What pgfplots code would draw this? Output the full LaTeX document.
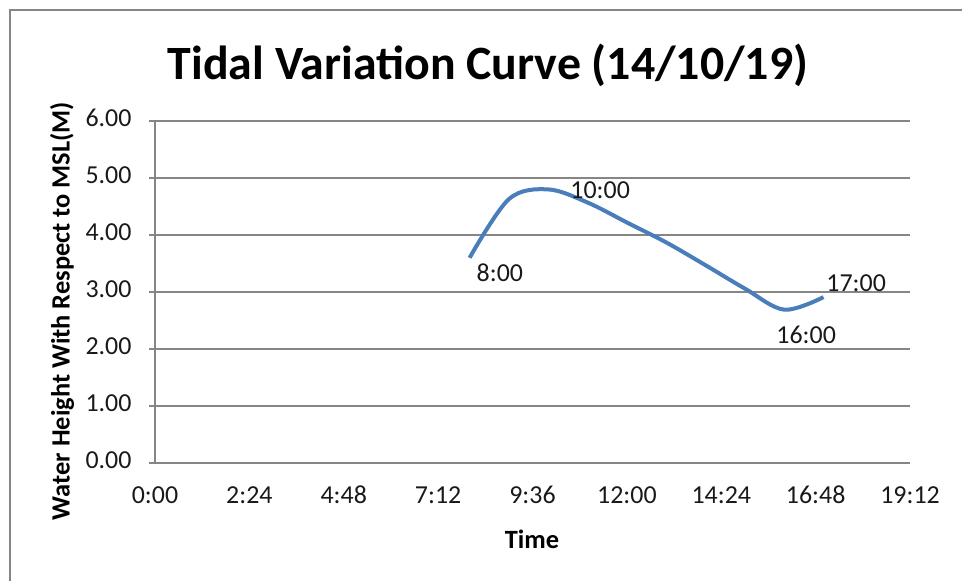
\documentclass[border=0pt]{standalone}
\usepackage{fontspec}
\setmainfont{Carlito}
\usepackage{pgfplots}
\pgfplotsset{compat=1.18}
\definecolor{excelblue}{HTML}{4A7EBB}
\definecolor{gridgray}{HTML}{868686}
\begin{document}
\begin{tikzpicture}[x=1bp,y=1bp]
\useasboundingbox (0,0) rectangle (962,-581);
\draw[color=gridgray, line width=2.5bp] (10,-585) -- (10,-10) -- (965,-10);
\node[font=\fontsize{48}{56}\selectfont\bfseries, anchor=base] at (488,-80) {Tidal Variation Curve (14/10/19)};
\node[font=\fontsize{26.5}{30}\selectfont\bfseries] at (532,-539) {Time};
\node[font=\fontsize{26.5}{30}\selectfont\bfseries, rotate=90] at (62,-311) {Water Height With Respect to MSL(M)};
\begin{axis}[
  at={(155bp,-463bp)}, anchor=south west, scale only axis,
  width=755bp, height=342bp,
  xmin=0, xmax=19.2, ymin=0, ymax=6,
  axis x line*=bottom, axis y line*=left,
  axis line style={gridgray, line width=1.2bp, -},
  xtick={0,2.4,4.8,7.2,9.6,12,14.4,16.8,19.2},
  xticklabels={0:00,2:24,4:48,7:12,9:36,12:00,14:24,16:48,19:12},
  ytick={0,1,2,3,4,5,6},
  /pgf/number format/fixed, /pgf/number format/fixed zerofill, /pgf/number format/precision=2,
  /pgf/number format/assume math mode=true,
  typeset ticklabels with strut,
  ymajorgrids, major grid style={gridgray, line width=1.2bp},
  xtick style={draw=none},
  ytick style={gridgray, line width=1.2bp},
  tick align=outside, major tick length=6bp,
  tick label style={font=\fontsize{26}{30}\selectfont, text=black!90},
  xticklabel style={yshift=-10bp},
  yticklabel style={xshift=-14bp},
  clip=false,
]
\addplot[excelblue, line width=4bp, smooth, tension=0.55] table {
x y
8 3.60
9 4.63
10 4.80
11 4.57
12 4.22
13 3.87
14 3.47
15 3.06
16 2.69
17 2.91
};
\node[font=\fontsize{26}{30}\selectfont, text=black!90] at (axis cs:8.77,3.33) {8:00};
\node[font=\fontsize{26}{30}\selectfont, text=black!90] at (axis cs:11.32,4.79) {10:00};
\node[font=\fontsize{26}{30}\selectfont, text=black!90] at (axis cs:16.56,2.25) {16:00};
\node[font=\fontsize{26}{30}\selectfont, text=black!90] at (axis cs:17.83,3.16) {17:00};
\end{axis}
\end{tikzpicture}
\end{document}
